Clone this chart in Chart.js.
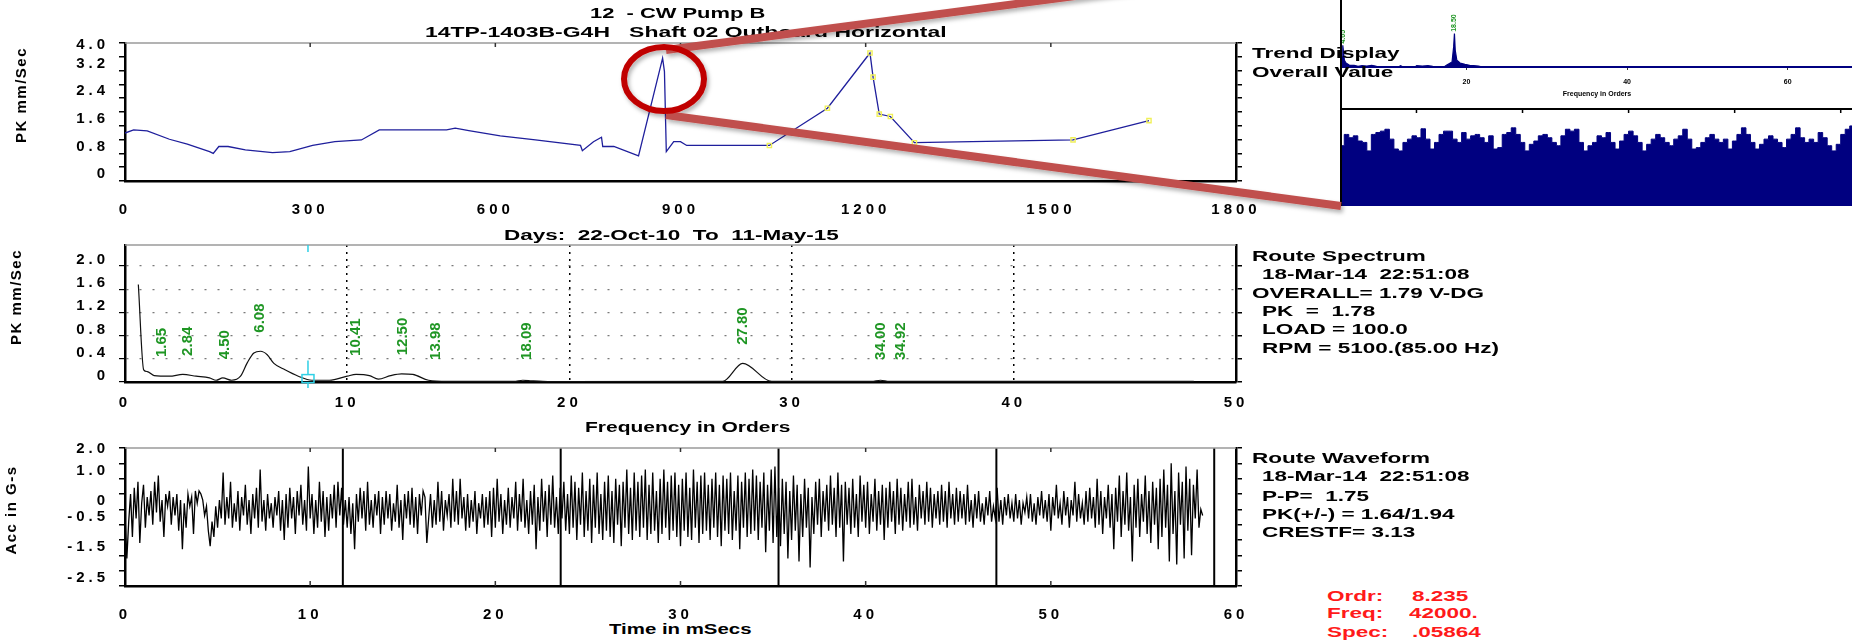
<!DOCTYPE html>
<html>
<head>
<meta charset="utf-8">
<script src="https://cdn.jsdelivr.net/npm/chart.js@4.4.1/dist/chart.umd.min.js"></script>
<style>
  html, body { margin: 0; padding: 0; background: #fff; }
  body { width: 1852px; height: 641px; position: relative; overflow: hidden; }
  .box { position: absolute; }
  .t { position: absolute; font: bold 15px/18px 'Liberation Sans', Arial, sans-serif; white-space: pre;
       transform: scaleX(1.5); transform-origin: 0 50%; color: #000; }
  .red { color: #ff1a1a; }
  .vt { position: absolute; font: bold 15px 'Liberation Sans', Arial, sans-serif; white-space: pre; letter-spacing: 1.5px;
        transform: translate(-50%, -50%) rotate(-90deg); }
  #inset { position: absolute; left: 1340px; top: 0; width: 512px; height: 206px; background: #fff; border-left: 2px solid #000; }
  svg { position: absolute; left: 0; top: 0; }
</style>
</head>
<body>

<div class="box" style="left:0;top:0;width:1300px;height:215px"><canvas id="trend"></canvas></div>
<div class="box" style="left:0;top:200px;width:1300px;height:215px"><canvas id="spec"></canvas></div>
<div class="box" style="left:0;top:420px;width:1300px;height:200px"><canvas id="wave"></canvas></div>

<div id="inset">
  <div class="box" style="left:0;top:0;width:510px;height:100px"><canvas id="insetSpec"></canvas></div>
  <div class="box" style="left:0;top:107px;width:510px;height:99px"><canvas id="insetWave"></canvas></div>
</div>

<div class="t" style="left:590px;top:4px;transform:scaleX(1.46)">12  - CW Pump B</div>
<div class="t" style="left:425px;top:23px;transform:scaleX(1.53)">14TP-1403B-G4H   Shaft 02 Outboard Horizontal</div>
<div class="t" style="left:1252px;top:44px">Trend Display</div>
<div class="t" style="left:1252px;top:63px">Overall Value</div>
<div class="t" style="left:504px;top:226px">Days:  22-Oct-10  To  11-May-15</div>

<div class="t" style="left:1252px;top:247px">Route Spectrum</div>
<div class="t" style="left:1262px;top:265px">18-Mar-14  22:51:08</div>
<div class="t" style="left:1252px;top:284px">OVERALL= 1.79 V-DG</div>
<div class="t" style="left:1262px;top:302px">PK  =  1.78</div>
<div class="t" style="left:1262px;top:320px">LOAD = 100.0</div>
<div class="t" style="left:1262px;top:339px">RPM = 5100.(85.00 Hz)</div>
<div class="t" style="left:585px;top:418px;transform:scaleX(1.4)">Frequency in Orders</div>

<div class="t" style="left:1252px;top:449px">Route Waveform</div>
<div class="t" style="left:1262px;top:467px">18-Mar-14  22:51:08</div>
<div class="t" style="left:1262px;top:487px">P-P=  1.75</div>
<div class="t" style="left:1262px;top:505px">PK(+/-) = 1.64/1.94</div>
<div class="t" style="left:1262px;top:523px">CRESTF= 3.13</div>
<div class="t" style="left:609px;top:620px;transform:scaleX(1.36)">Time in mSecs</div>

<div class="t red" style="left:1327px;top:587px">Ordr:</div>
<div class="t red" style="left:1412px;top:587px">8.235</div>
<div class="t red" style="left:1327px;top:604px">Freq:</div>
<div class="t red" style="left:1409px;top:604px">42000.</div>
<div class="t red" style="left:1327px;top:623px">Spec:</div>
<div class="t red" style="left:1412px;top:623px">.05864</div>

<div class="vt" style="left:20px;top:95px">PK mm/Sec</div>
<div class="vt" style="left:15px;top:297px">PK mm/Sec</div>
<div class="vt" style="left:10px;top:510px">Acc in G-s</div>

<svg width="1852" height="641">
  <defs><filter id="sh" x="-10%" y="-50%" width="120%" height="200%"><feDropShadow dx="2" dy="3" stdDeviation="2" flood-opacity="0.3"/></filter></defs>
  <g filter="url(#sh)">
    <line x1="666" y1="50" x2="1341" y2="-39" stroke="#c0504d" stroke-width="8"/>
    <line x1="666" y1="115" x2="1341" y2="206" stroke="#c0504d" stroke-width="8"/>
    <ellipse cx="664" cy="79" rx="40" ry="32" fill="none" stroke="#c00000" stroke-width="6"/>
  </g>
</svg>

<script>
// trend of overall value
const trendDays = [0, 14, 36, 72, 101, 137, 143, 152, 167, 195, 239, 267, 304, 340, 383, 412, 521, 535, 557, 608,
  665, 738, 741, 759, 772, 774, 792, 832, 871, 874, 877, 889, 900, 910, 1044, 1138, 1207, 1212, 1222, 1240, 1279, 1536, 1659];
const trendValues = [1.39, 1.48, 1.45, 1.21, 1.07, 0.85, 0.80, 1.0, 1.0, 0.9, 0.82, 0.85, 1.03, 1.14, 1.19, 1.48, 1.48, 1.53, 1.46, 1.31,
  1.19, 1.03, 0.88, 1.14, 1.27, 1.0, 1.0, 0.73, 3.56, 3.17, 0.85, 1.14, 1.14, 1.03, 1.03, 2.11, 3.71, 3.01, 1.94, 1.87, 1.11, 1.19, 1.75];
const trendMarkFrom = 1040;
const trendDayTicks = [0, 300, 600, 900, 1200, 1500, 1800];
const trendTicks = [0, 0.4, 0.8, 1.2, 1.6, 2.0, 2.4, 2.8, 3.2, 3.6, 4.0];
const trendLabels = [0, 0.8, 1.6, 2.4, 3.2, 4.0];

// route spectrum
const specOrders = [0.6, 0.84, 1.0, 1.31, 2.0, 2.6, 3.2, 3.8, 4.1, 4.4, 4.8, 5.2, 5.5, 5.8, 6.1, 6.4, 6.7, 7.2, 7.8, 8.4,
  9.2, 10.0, 10.4, 11.0, 11.4, 11.95, 12.45, 12.95, 13.66, 14.5, 17.5, 17.9, 18.3, 18.8, 20.0, 26.9, 27.8, 29.1, 33.6, 34.0, 34.4, 48.1];
const specValues = [1.68, 0.21, 0.18, 0.11, 0.10, 0.13, 0.10, 0.07, 0.03, 0.07, 0.03, 0.10, 0.33, 0.50, 0.53, 0.47, 0.32, 0.21, 0.10, 0.03,
  0.03, 0.10, 0.13, 0.11, 0.05, 0.11, 0.14, 0.13, 0.03, 0.01, 0.01, 0.03, 0.02, 0.01, 0.005, 0.01, 0.32, 0.01, 0.01, 0.03, 0.01, 0.01];
const peakOrders = [1.65, 2.84, 4.50, 6.08, 10.41, 12.50, 13.98, 18.09, 27.80, 34.00, 34.92];
const specOrderTicks = [0, 10, 20, 30, 40, 50];
const specTicks = [0, 0.4, 0.8, 1.2, 1.6, 2.0];
const cursorOrder = 8.235;
const cursorSpec = 0.05864;

// route waveform, one sample every 0.1 ms
const waveStep = 0.1;
const waveValues = [
  -0.2,-1.6,-0.4,0.5,-0.9,0.7,-0.3,0.9,-1.1,0.2,0.8,-0.6,0.4,-0.2,0.6,-0.5,0.9,-0.1,1.1,-0.4,
  0.3,-0.9,0.5,0.1,0.6,-0.5,0.4,-0.2,0.5,-0.7,0.3,-1.3,0.2,-0.6,0.5,0.1,0.4,-0.8,0.6,0.2,
  0.6,0.5,0.3,-0.2,0.1,-0.7,-1.2,-0.4,-0.9,0.1,-0.6,0.3,-0.3,1.2,-0.5,0.4,-0.3,0.9,-0.6,0.2,
  -0.4,0.6,-0.7,0.4,-0.2,0.8,-0.5,0.3,-0.8,0.5,-0.3,0.7,-0.6,1.3,-0.4,0.3,-0.7,0.5,-0.3,0.2,
  -0.6,0.4,-0.2,0.6,-0.7,0.3,-1.0,0.5,-0.6,0.7,-0.3,0.4,-0.8,0.6,-0.2,0.8,-0.5,0.3,-0.7,1.4,
  -0.3,0.5,-0.8,0.3,-0.6,0.9,-0.4,0.6,-0.9,0.4,-0.7,0.5,-0.3,0.8,-0.6,0.9,-0.2,0.7,-0.5,0.3,
  -0.6,0.4,-0.8,0.2,-1.3,0.5,-0.4,0.7,-0.3,0.6,-0.7,0.9,-0.5,0.3,-0.6,0.5,-0.2,0.6,-0.8,0.4,
  -0.5,0.6,-0.3,0.5,-0.7,0.2,-0.4,0.8,-0.6,0.3,-1.0,0.5,-0.3,0.6,-0.5,0.7,-0.6,0.4,-0.8,0.5,
  -0.2,0.6,0.4,-1.1,-0.3,0.5,-0.6,0.3,-0.5,0.9,-0.4,0.6,-0.7,0.3,-0.2,0.5,-0.6,1.0,-0.4,0.6,
  -0.5,1.0,-0.3,0.4,-0.7,0.5,-0.6,0.3,-0.4,0.6,-0.8,0.2,-0.3,0.5,-0.6,0.4,-0.5,0.6,-0.9,0.7,
  -0.6,1.0,-0.4,0.5,-0.8,0.3,-0.5,0.7,-0.6,0.4,-0.3,0.9,-0.7,0.5,-0.4,1.0,-0.6,0.3,-0.8,0.6,
  -0.5,0.8,-1.3,0.4,-0.7,1.0,-0.4,0.6,-0.9,0.8,-0.5,1.1,-0.6,0.4,-0.8,0.7,-0.3,0.9,-0.7,0.5,
  -0.8,1.1,-0.6,0.9,-1.0,0.7,-0.5,1.2,-0.9,0.6,-0.7,1.0,-1.1,0.8,-0.6,1.2,-0.8,0.5,-1.0,0.9,
  -0.7,1.1,-0.9,0.6,-1.1,1.0,-0.5,0.8,-1.2,0.9,-0.6,1.3,-0.8,0.7,-1.0,1.2,-0.7,0.9,-0.9,1.1,
  -0.6,1.3,-1.0,0.8,-0.8,1.2,-0.7,0.6,-1.1,1.0,-0.8,1.3,-0.6,0.9,-1.0,1.1,-0.7,1.2,-0.9,0.8,
  -1.2,1.0,-0.7,1.2,-0.9,0.7,-1.0,1.3,-0.6,0.9,-1.1,1.1,-0.8,1.2,-0.7,0.8,-1.0,1.0,-0.6,1.2,
  -0.9,0.8,-1.2,1.1,-0.7,1.0,-0.8,1.2,-1.0,0.6,-0.7,1.1,-1.3,0.9,-0.6,1.2,-0.9,1.0,-0.8,1.3,
  -0.7,1.1,-1.0,0.9,-0.6,1.2,-1.4,0.8,-0.7,1.3,-1.1,1.4,-0.9,0.7,-1.2,1.0,-0.8,0.9,-1.6,0.6,
  -1.0,1.1,-0.7,0.8,-1.7,0.5,-0.9,1.0,-0.6,0.7,-1.9,0.4,-0.8,0.9,-0.5,1.0,-0.9,0.6,-0.4,0.8,
  -0.7,1.1,-0.5,0.7,-0.9,1.2,-0.6,0.8,-1.7,0.9,-0.5,0.7,-0.8,1.0,-0.6,0.5,-0.9,1.1,-0.4,0.8,
  -0.6,0.9,-0.8,0.5,-0.4,1.0,-0.7,0.6,-0.5,0.8,-1.0,0.7,-0.6,0.9,-0.4,0.6,-0.8,1.0,-0.5,0.7,
  -0.7,0.5,-0.4,0.9,-0.6,1.0,-0.5,0.4,-0.7,0.8,-0.3,0.6,-0.5,0.9,-0.4,0.7,-0.6,0.5,-0.3,0.6,
  -0.5,0.8,-0.4,0.6,-0.6,0.9,-0.3,0.5,-0.5,0.7,-0.4,0.6,-0.3,0.5,-0.5,0.8,-0.4,0.3,-0.6,0.5,
  -0.3,0.6,-0.4,0.2,-0.5,0.4,-0.2,0.6,-0.4,0.1,-0.3,0.7,-0.4,0.3,-0.5,0.4,-0.2,0.5,-0.3,0.2,
  -0.4,0.5,-0.3,0.3,-0.5,0.2,-0.1,0.4,-0.3,0.5,-0.4,0.2,-0.5,0.4,-0.2,0.6,-0.3,0.3,-0.4,0.5,
  -0.7,0.4,-0.2,0.8,-0.3,0.2,-0.5,0.6,-0.2,0.4,-0.6,0.3,-0.2,0.9,-0.4,0.5,-0.3,0.2,-0.5,0.6,
  -0.4,0.7,-0.3,0.4,-0.6,1.0,-0.5,0.6,-0.8,0.4,-0.3,0.8,-0.6,0.5,-1.3,0.7,-0.4,1.1,-0.9,0.6,
  -0.5,1.2,-0.7,0.4,-1.7,0.8,-0.6,1.0,-0.9,0.5,-0.4,1.1,-0.8,0.6,-1.1,0.9,-0.5,0.7,-1.3,1.0,
  -0.9,1.3,-0.6,0.8,-1.7,1.5,-0.8,0.6,-1.8,1.2,-0.5,0.9,-1.6,1.4,-0.7,1.0,-1.5,0.8,-0.3,1.3,
  -0.6,0.0,-0.2
];
const waveTimeTicks = [0, 10, 20, 30, 40, 50, 60];
const waveTicks = [-2.5, -2.0, -1.5, -1.0, -0.5, 0, 0.5, 1.0, 1.5, 2.0];
const waveLabels = [2.0, 1.0, 0, -0.5, -1.5, -2.5];
const rpm = 5100;

// inset (pasted spectrum + long waveform)
const insetOrders = [4.5, 4.6, 4.8, 5.0, 5.4, 6.0, 6.5, 7.0, 7.6, 8.2, 8.8, 9.5, 11.5, 11.8, 12.1, 13.6, 13.8, 14.5, 15.2, 15.8,
  17.2, 17.5, 18.2, 18.4, 18.5, 18.6, 18.8, 19.2, 19.8, 20.4, 20.9, 21.5, 22.0, 68];
const insetSpec = [0.3, 0.65, 0.2, 0.12, 0.06, 0.05, 0.02, 0.04, 0.03, 0.05, 0.02, 0, 0, 0.04, 0, 0, 0.04, 0.03, 0.04, 0.02,
  0, 0.05, 0.15, 0.6, 1.0, 0.5, 0.2, 0.12, 0.08, 0.05, 0.04, 0.03, 0, 0];
const insetPeaks = [4.65, 18.5];
const insetOrderTicks = [20, 40, 60];
const insetEnvelope = [1.28,1.52,1.45,1.49,1.38,1.35,1.17,1.52,1.56,1.59,1.63,1.42,1.21,1.17,1.35,1.42,1.49,1.45,1.64,1.42,
  1.21,1.35,1.52,1.59,1.59,1.42,1.35,1.56,1.42,1.49,1.52,1.45,1.35,1.49,1.21,1.24,1.52,1.56,1.66,1.52,
  1.35,1.17,1.31,1.38,1.49,1.52,1.45,1.35,1.28,1.49,1.63,1.59,1.63,1.35,1.17,1.28,1.35,1.49,1.45,1.56,
  1.35,1.21,1.38,1.52,1.59,1.49,1.35,1.17,1.31,1.42,1.52,1.45,1.35,1.28,1.42,1.49,1.63,1.42,1.21,1.24,
  1.35,1.45,1.52,1.42,1.35,1.42,1.21,1.38,1.52,1.66,1.52,1.35,1.21,1.31,1.42,1.49,1.42,1.35,1.24,1.42,
  1.52,1.66,1.45,1.35,1.42,1.35,1.56,1.45,1.28,1.17,1.31,1.52,1.63,1.70];
const insetTimeTicks = [16.5, 40, 63.5, 87, 110.5];

const FONT = "'Liberation Sans', Arial, sans-serif";
Chart.defaults.font.family = FONT;
Chart.defaults.font.weight = 'bold';
Chart.defaults.font.size = 15;
Chart.defaults.color = '#000';
Chart.defaults.animation = false;
Chart.defaults.plugins.legend.display = false;
Chart.defaults.plugins.tooltip.enabled = false;

const has = (list, v) => list.some(l => Math.abs(l - v) < 1e-6);
const fmt = v => Math.abs(v) < 1e-9 ? '0' : v.toFixed(1);
const setTicks = list => ax => { ax.ticks = list.map(v => ({ value: v })); };
// the top label of an axis sits on the frame, the others ride a little high
const yLabel = (labels, top) => v => {
  if (!has(labels, v)) return '';
  return Math.abs(v - top) < 1e-6 ? ['', fmt(v)] : fmt(v);
};

// wide old-style lettering on the axes
const spacingPlugin = {
  id: 'spacing',
  defaults: { px: 0 },
  beforeLayout(chart, args, o) { chart.ctx.letterSpacing = o.px + 'px'; },
  beforeDraw(chart, args, o) { chart.ctx.letterSpacing = o.px + 'px'; }
};

// grey top edge and small inner ticks on it
const framePlugin = {
  id: 'frame',
  afterDatasetsDraw(chart, args, o) {
    if (!o.top) return;
    const { ctx, chartArea: a } = chart;
    const x = chart.scales.x;
    ctx.save();
    ctx.strokeStyle = o.top;
    ctx.lineWidth = o.topWidth || 1.5;
    ctx.beginPath(); ctx.moveTo(a.left, a.top); ctx.lineTo(a.right, a.top); ctx.stroke();
    ctx.strokeStyle = o.tickColor || '#333';
    ctx.lineWidth = 1.5;
    x.ticks.forEach(t => {
      const px = x.getPixelForValue(t.value);
      if (px <= a.left + 2 || px >= a.right - 2) return;
      ctx.beginPath();
      if (o.topTick) { ctx.moveTo(px, a.top); ctx.lineTo(px, a.top + o.topTick); }
      if (o.bottomTick) { ctx.moveTo(px, a.bottom); ctx.lineTo(px, a.bottom - o.bottomTick); }
      ctx.stroke();
    });
    ctx.restore();
  }
};

// green order labels standing over the peaks
const peakLabelPlugin = {
  id: 'peakLabels',
  afterDatasetsDraw(chart, args, o) {
    if (!o.orders) return;
    const { ctx } = chart;
    const xs = chart.scales.x, ys = chart.scales.y;
    const pts = chart.data.datasets[0].data;
    ctx.save();
    ctx.letterSpacing = '0px';
    ctx.fillStyle = o.color;
    ctx.font = o.font;
    ctx.textAlign = 'left';
    ctx.textBaseline = 'middle';
    o.orders.forEach(f => {
      let v = 0;
      pts.forEach(p => { if (Math.abs(p.x - f) <= o.near) v = Math.max(v, p.y); });
      const base = Math.max(o.floor, v + o.gap);
      ctx.save();
      ctx.translate(xs.getPixelForValue(f), ys.getPixelForValue(base));
      ctx.rotate(-Math.PI / 2);
      ctx.fillText(f.toFixed(2), 0, 0);
      ctx.restore();
    });
    ctx.restore();
  }
};

// cyan cursor on the spectrum
const cursorPlugin = {
  id: 'cursor',
  afterDatasetsDraw(chart, args, o) {
    if (o.order == null) return;
    const { ctx, chartArea: a } = chart;
    const px = chart.scales.x.getPixelForValue(o.order);
    const py = chart.scales.y.getPixelForValue(o.value);
    ctx.save();
    ctx.strokeStyle = o.color;
    ctx.lineWidth = 1.5;
    ctx.beginPath();
    ctx.moveTo(px, a.top); ctx.lineTo(px, a.top + 7);
    ctx.moveTo(px, py - 18); ctx.lineTo(px, py - 4);
    ctx.moveTo(px, py + 4); ctx.lineTo(px, a.bottom + 6);
    ctx.stroke();
    ctx.strokeRect(px - 6, py - 4, 12, 8);
    ctx.restore();
  }
};

// one vertical line per shaft revolution on the waveform
const revPlugin = {
  id: 'revLines',
  beforeDatasetsDraw(chart, args, o) {
    if (!o.period) return;
    const { ctx, chartArea: a } = chart;
    const x = chart.scales.x;
    ctx.save();
    ctx.strokeStyle = '#000';
    ctx.lineWidth = 2;
    for (let t = o.period; t < x.max; t += o.period) {
      const px = x.getPixelForValue(t);
      ctx.beginPath(); ctx.moveTo(px, a.top); ctx.lineTo(px, a.bottom); ctx.stroke();
    }
    ctx.restore();
  }
};

Chart.register(spacingPlugin, framePlugin, peakLabelPlugin, cursorPlugin, revPlugin);

function rightAxis(min, max, ticks, width) {
  return {
    position: 'right', min, max, afterBuildTicks: setTicks(ticks),
    ticks: { display: false },
    grid: { drawOnChartArea: false, tickLength: 6, color: '#000', lineWidth: 1.5 },
    border: { color: '#000', width: 2.5 },
    afterFit: s => { s.width = width; }
  };
}

function xAxis(min, max, ticks, extra) {
  return Object.assign({
    type: 'linear', min, max, afterBuildTicks: setTicks(ticks),
    grid: { display: false }, border: { color: '#000', width: 2.5 },
    ticks: { padding: 12, autoSkip: false, maxRotation: 0, callback: v => String(v) },
    afterFit: s => { s.height = 34; }
  }, extra || {});
}

// trend display
new Chart(document.getElementById('trend'), {
  type: 'line',
  data: {
    datasets: [{
      data: trendDays.map((d, i) => ({ x: d, y: trendValues[i] })),
      borderColor: '#1f1f9c', borderWidth: 1.3, tension: 0,
      pointStyle: 'rect',
      pointRadius: c => trendDays[c.dataIndex] >= trendMarkFrom ? 3 : 0,
      pointBorderColor: '#f0f05a', pointBackgroundColor: 'rgba(255,255,255,0)', pointBorderWidth: 1.4
    }]
  },
  options: {
    responsive: true, maintainAspectRatio: false, devicePixelRatio: 1,
    layout: { padding: { top: 43, left: 0, right: 0, bottom: 0 } },
    scales: {
      x: xAxis(0, 1800, trendDayTicks),
      y: {
        min: 0, max: 4, afterBuildTicks: setTicks(trendTicks),
        ticks: { callback: yLabel(trendLabels, 4.0), padding: 10, labelOffset: -7, autoSkip: false },
        grid: { drawOnChartArea: false, tickLength: 6, color: '#000', lineWidth: 1.5 },
        border: { color: '#000', width: 2.5 },
        afterFit: s => { s.width = 125; }
      },
      y2: rightAxis(0, 4, trendTicks, 64)
    },
    plugins: { spacing: { px: 4 }, frame: { top: '#9a9a9a', topTick: 4 } }
  }
});

// route spectrum
new Chart(document.getElementById('spec'), {
  type: 'line',
  data: {
    datasets: [{
      data: specOrders.map((f, i) => ({ x: f, y: specValues[i] })),
      borderColor: '#111', borderWidth: 1.2, pointRadius: 0, cubicInterpolationMode: 'monotone'
    }]
  },
  options: {
    responsive: true, maintainAspectRatio: false, devicePixelRatio: 1,
    layout: { padding: { top: 45, left: 0, right: 0, bottom: 0 } },
    scales: {
      x: xAxis(0, 50, specOrderTicks, {
        grid: { drawTicks: false, lineWidth: 1.5, color: c => (c.tick && (c.tick.value === 0 || c.tick.value === 50)) ? 'rgba(0,0,0,0)' : '#000' },
        border: { color: '#000', width: 2.5, dash: [2, 5] },
        afterFit: s => { s.height = 33; }
      }),
      y: {
        min: 0, max: 2.36, afterBuildTicks: setTicks(specTicks),
        ticks: { callback: v => fmt(v), padding: 10, labelOffset: -6, autoSkip: false },
        grid: { tickLength: 6, lineWidth: 1.2, tickColor: '#000', tickBorderDash: [],
                color: c => (c.tick && c.tick.value === 0) ? 'rgba(0,0,0,0)' : '#7a7a7a' },
        border: { color: '#000', width: 2.5, dash: [2, 11] },
        afterFit: s => { s.width = 125; }
      },
      y2: rightAxis(0, 2.36, specTicks, 64)
    },
    plugins: {
      spacing: { px: 4 },
      frame: { top: '#9a9a9a' },
      peakLabels: { orders: peakOrders, color: '#1f9624', font: 'bold 15px ' + FONT, near: 0.4, gap: 0.32, floor: 0.38 },
      cursor: { order: cursorOrder, value: cursorSpec, color: '#2fd0e6' }
    }
  }
});

// route waveform
new Chart(document.getElementById('wave'), {
  type: 'line',
  data: {
    datasets: [{
      data: waveValues.map((v, i) => ({ x: i * waveStep, y: v })),
      borderColor: '#000', borderWidth: 1.3, pointRadius: 0, tension: 0
    }]
  },
  options: {
    responsive: true, maintainAspectRatio: false, devicePixelRatio: 1,
    layout: { padding: { top: 27, left: 0, right: 0, bottom: 0 } },
    scales: {
      x: xAxis(0, 60, waveTimeTicks),
      y: {
        min: -2.5, max: 2.0, afterBuildTicks: setTicks(waveTicks),
        ticks: { callback: yLabel(waveLabels, 2.0), padding: 10, labelOffset: -8, autoSkip: false },
        grid: { drawOnChartArea: false, tickLength: 6, color: '#000', lineWidth: 1.5 },
        border: { color: '#000', width: 2.5 },
        afterFit: s => { s.width = 125; }
      },
      y2: rightAxis(-2.5, 2.0, waveTicks, 64)
    },
    plugins: {
      spacing: { px: 4 },
      frame: { top: '#9a9a9a', topTick: 4, bottomTick: 5 },
      revLines: { period: 60000 / rpm }
    }
  }
});

// inset spectrum
new Chart(document.getElementById('insetSpec'), {
  type: 'line',
  data: {
    datasets: [{
      data: insetOrders.map((f, i) => ({ x: f, y: insetSpec[i] })),
      borderColor: '#000080', backgroundColor: '#000080', borderWidth: 1.2, pointRadius: 0, tension: 0, fill: 'origin'
    }]
  },
  options: {
    responsive: true, maintainAspectRatio: false, devicePixelRatio: 1,
    layout: { padding: 0 },
    scales: {
      x: {
        type: 'linear', min: 4.5, max: 68, afterBuildTicks: setTicks(insetOrderTicks),
        grid: { drawOnChartArea: false, tickLength: 3, color: '#333' },
        border: { color: '#000080', width: 2 },
        ticks: { padding: 8, font: { size: 7 }, autoSkip: false, maxRotation: 0 },
        title: { display: true, text: 'Frequency in Orders', font: { size: 7 }, padding: 2 },
        afterFit: s => { s.height = 33; }
      },
      y: { display: false, min: 0, max: 2 }
    },
    plugins: {
      peakLabels: { orders: insetPeaks, color: '#1f9624', font: 'bold 7px ' + FONT, near: 0.15, gap: 0.05, floor: 0.05 }
    }
  }
});

// inset waveform envelope
new Chart(document.getElementById('insetWave'), {
  type: 'line',
  data: {
    datasets: [{
      data: insetEnvelope.map((v, i) => ({ x: i, y: v })),
      borderColor: '#000080', backgroundColor: '#000080', borderWidth: 1, pointRadius: 0, stepped: 'middle', fill: 'origin'
    }]
  },
  options: {
    responsive: true, maintainAspectRatio: false, devicePixelRatio: 1,
    layout: { padding: { top: 2 } },
    scales: {
      x: {
        type: 'linear', min: 0, max: insetEnvelope.length - 1, afterBuildTicks: setTicks(insetTimeTicks),
        ticks: { display: false }, grid: { display: false },
        border: { color: '#000', width: 2 },
        afterFit: s => { s.height = 0; }
      },
      y: { display: false, min: 0, max: 2.06 }
    },
    plugins: { frame: { top: '#000', topWidth: 2, topTick: 4, tickColor: '#000' } }
  }
});
</script>
</body>
</html>
